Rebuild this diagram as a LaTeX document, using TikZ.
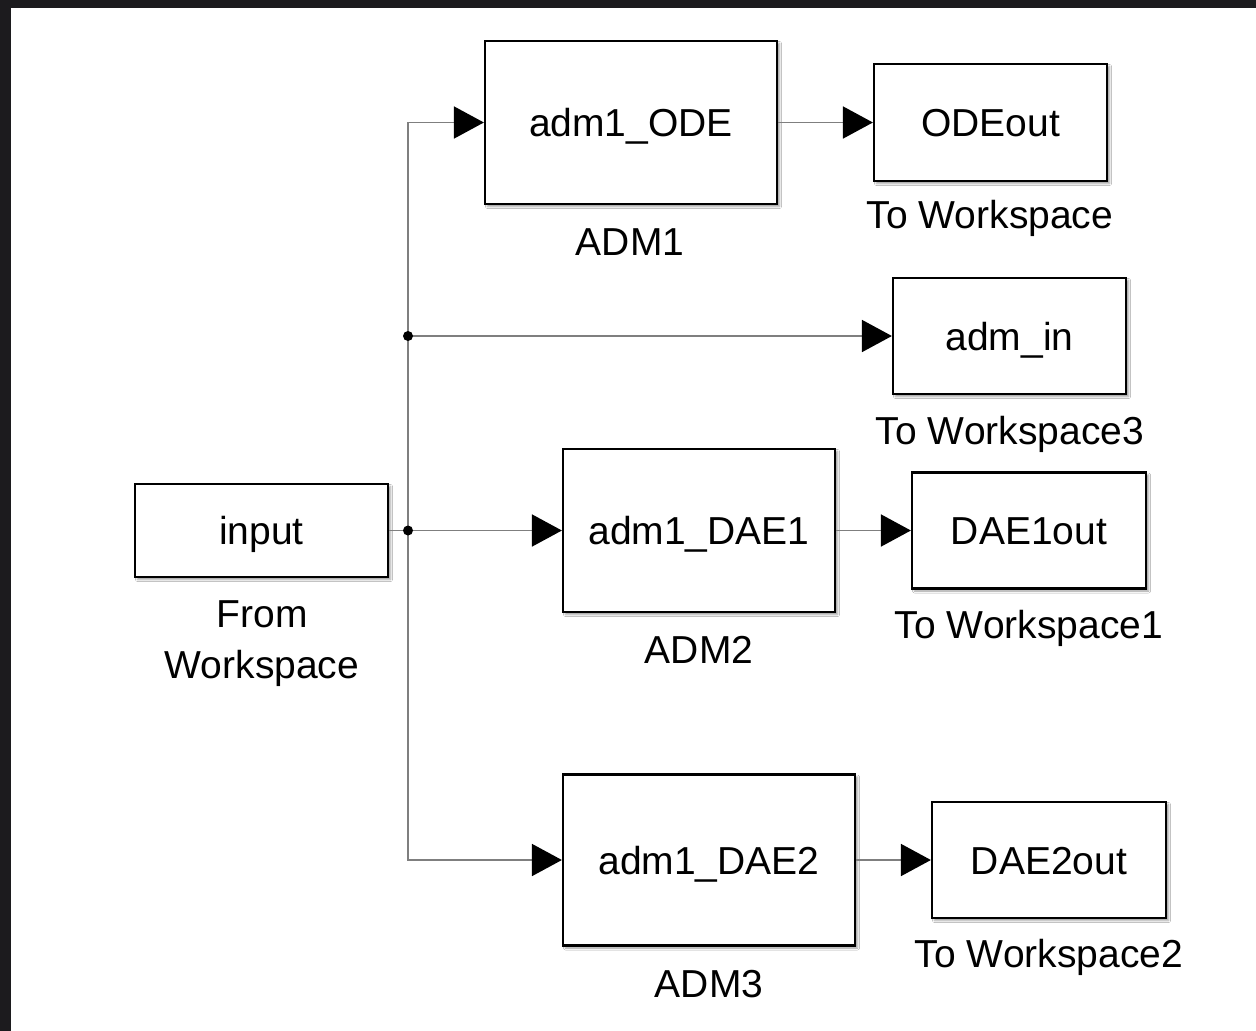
\documentclass[tikz,border=0pt]{standalone}
\usepackage{fontspec}
\setmainfont{Liberation Sans}
\usetikzlibrary{arrows.meta,shadows.blur}
\definecolor{framedark}{HTML}{1C1B1E}
\definecolor{wire}{HTML}{7F7F7F}
\tikzset{
  block/.style={draw=black, line width=2.2pt, fill=white, inner sep=0pt,
    font=\fontsize{39}{46}\selectfont, text height=28pt, text depth=0pt,
    blur shadow={shadow xshift=2.5pt, shadow yshift=-2.5pt, shadow blur steps=4, shadow blur radius=2pt, shadow opacity=40}},
  caption/.style={font=\fontsize{39}{51}\selectfont, align=center, inner sep=0pt},
  signal/.style={draw=wire, line width=1.8pt, -{Triangle[length=30pt,width=32pt,color=black]}},
  plainwire/.style={draw=wire, line width=1.8pt},
  junction/.style={circle, fill=black, minimum size=10pt, inner sep=0pt}
}
\begin{document}
\begin{tikzpicture}[x=1pt,y=-1pt]
\useasboundingbox (0,0) rectangle (1256,1031);
\fill[white] (0,0) rectangle (1256,1031);
% dark window frame along top and left edges
\fill[framedark] (0,0) rectangle (1256,8);
\fill[framedark] (0,0) rectangle (11,1031);

% blocks
\node[block, minimum width=253pt, minimum height=93pt]  (input) at (261.5,530.5) {input};
\node[block, minimum width=292pt, minimum height=163pt] (ode)   at (631,122.5)   {adm1\_ODE};
\node[block, minimum width=233pt, minimum height=117pt] (odeout) at (990.5,122.5) {ODEout};
\node[block, minimum width=233pt, minimum height=116pt] (admin) at (1009.5,336)  {adm\_in};
\node[block, minimum width=272pt, minimum height=163pt] (dae1)  at (699,530.5)   {adm1\_DAE1};
\node[block, minimum width=234pt, minimum height=116pt] (dae1out) at (1029,530.5) {DAE1out};
\node[block, minimum width=292pt, minimum height=171pt] (dae2)  at (709,860)     {adm1\_DAE2};
\node[block, minimum width=234pt, minimum height=116pt] (dae2out) at (1049,860)  {DAE2out};

% block captions
\node[caption] (capode)    at (630,242)   {ADM1};
\node[caption] (capodeout) at (990,218)   {To Workspace};
\node[caption] (capadmin)  at (1010,434)  {To Workspace3};
\node[caption] (capinput)  at (262,644)   {From\\Workspace};
\node[caption] (capdae1)   at (699,650)   {ADM2};
\node[caption] (capdae1o)  at (1029,628)  {To Workspace1};
\node[caption] (capdae2)   at (709,984)   {ADM3};
\node[caption] (capdae2o)  at (1049,957)  {To Workspace2};

% branch points
\coordinate (split) at (408,530.5);
\coordinate (tap) at (408,336);

% signal lines
\draw[plainwire] (input.east) -- (split);
\draw[signal] (split) -- (dae1.west);
\draw[signal] (split) |- (ode.west);
\draw[signal] (split) |- (dae2.west);
\draw[signal] (tap) -- (admin.west);
\draw[signal] (ode.east) -- (odeout.west);
\draw[signal] (dae1.east) -- (dae1out.west);
\draw[signal] (dae2.east) -- (dae2out.west);

\node[junction] (jsplit) at (split) {};
\node[junction] (jtap) at (tap) {};
\end{tikzpicture}
\end{document}
